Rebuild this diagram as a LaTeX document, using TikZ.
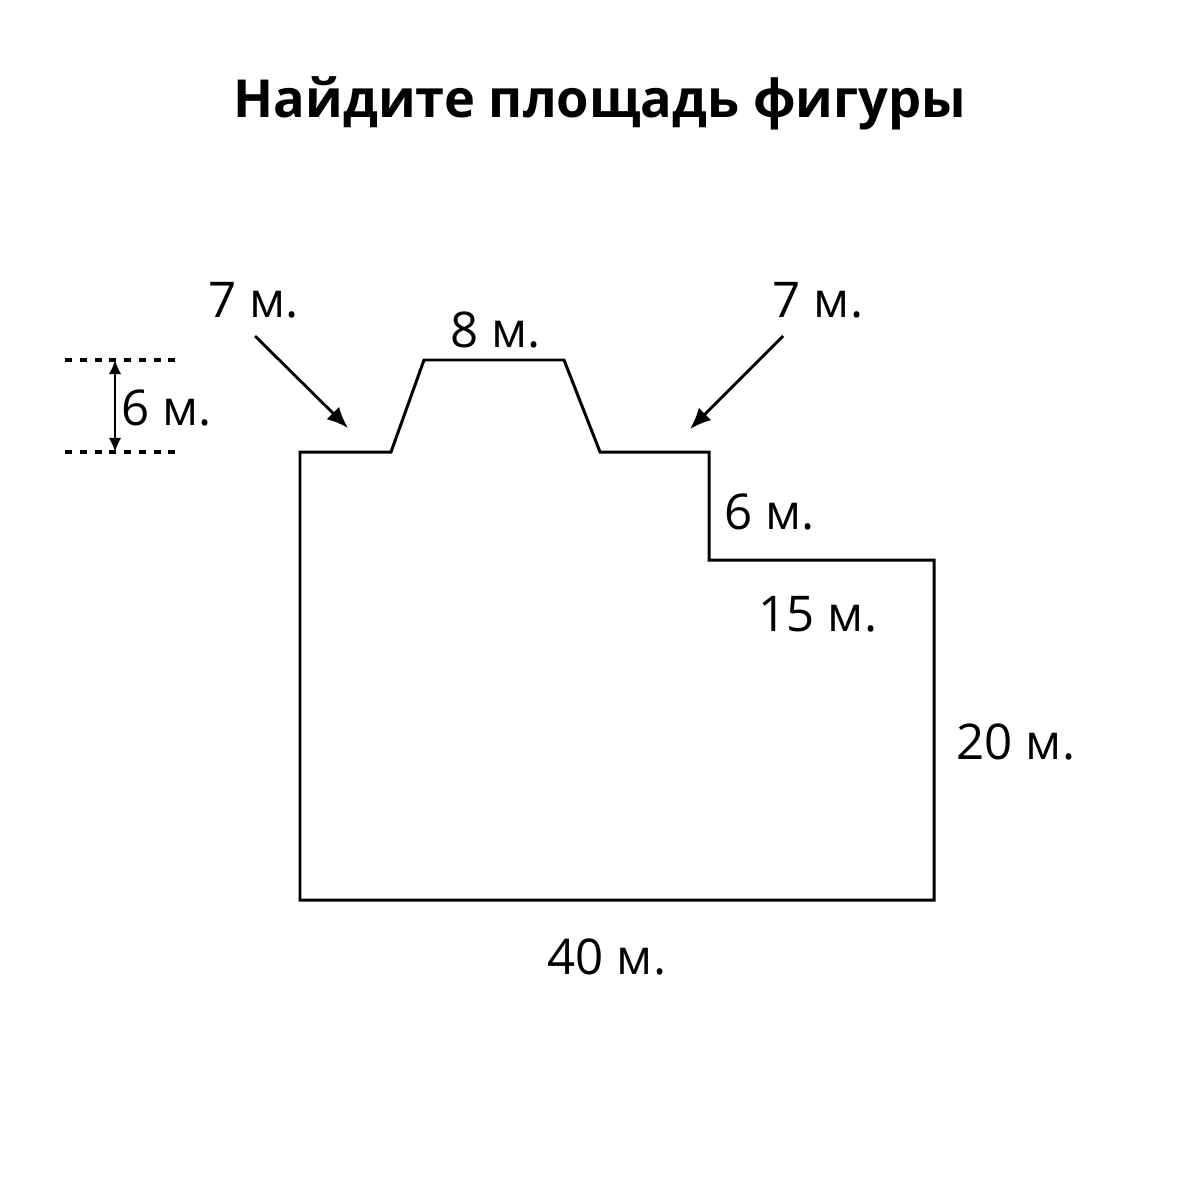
\documentclass[tikz,border=0pt]{standalone}
\usepackage{fontspec}
\setmainfont{Open Sans}
\usepackage{tikz}
\usetikzlibrary{positioning, arrows.meta}

\begin{document}
\begin{tikzpicture}[x=0.01cm, y=-0.01cm, line width=0.85pt,
	lbl/.style={font=\fontsize{14}{16}\selectfont, inner sep=0pt},
	pointer/.style={-{Latex[length=6pt, width=5pt]}, line width=0.8pt},
	dimline/.style={line width=0.9pt, dash pattern=on 2pt off 2.2pt}]
	\useasboundingbox (0, 0) rectangle (1200, 1200);
	\node (title) at (600, 103) {\fontsize{14.9}{17}\selectfont\bfseries Найдите площадь фигуры};
	% outline
	\coordinate (a) at (300, 452);
	\coordinate (b) at (391, 452);
	\coordinate (c) at (424, 360);
	\coordinate (d) at (564, 360);
	\coordinate (e) at (600, 452);
	\coordinate (f) at (709, 452);
	\coordinate (g) at (709, 560);
	\coordinate (h) at (934, 560);
	\coordinate (i) at (934, 900);
	\coordinate (j) at (300, 900);
	\draw [line join=miter] (a) -- (b) -- (c) -- (d) -- (e) -- (f) -- (g) -- (h) -- (i) -- (j) -- cycle;
	% height mark
	\coordinate (t0) at (65, 360);
	\coordinate (t1) at (178, 360);
	\coordinate (b0) at (65, 452);
	\coordinate (b1) at (178, 452);
	\draw [dimline] (t0) -- (t1);
	\draw [dimline] (b0) -- (b1);
	\coordinate (up) at (115, 360);
	\coordinate (dn) at (115, 452);
	\draw [{Latex[length=4pt, width=3.5pt]}-{Latex[length=4pt, width=3.5pt]}, line width=0.5pt] (up) -- (dn);
	\node [lbl] (h6) at (167, 408) {6 м.};
	% labels
	\node [lbl] (l7) at (254, 300) {7 м.};
	\node [lbl] (r7) at (818, 300) {7 м.};
	\node [lbl] (t8) at (496, 330) {8 м.};
	\node [lbl] (s6) at (770, 512) {6 м.};
	\node [lbl] (s15) at (818, 614) {15 м.};
	\node [lbl] (s20) at (1016, 742) {20 м.};
	\node [lbl] (s40) at (607, 957) {40 м.};
	\coordinate (p0) at (255, 336);
	\coordinate (p1) at (348, 428);
	\coordinate (q0) at (783, 336);
	\coordinate (q1) at (690, 429);
	\draw [pointer] (p0) -- (p1);
	\draw [pointer] (q0) -- (q1);
\end{tikzpicture}
\end{document}
